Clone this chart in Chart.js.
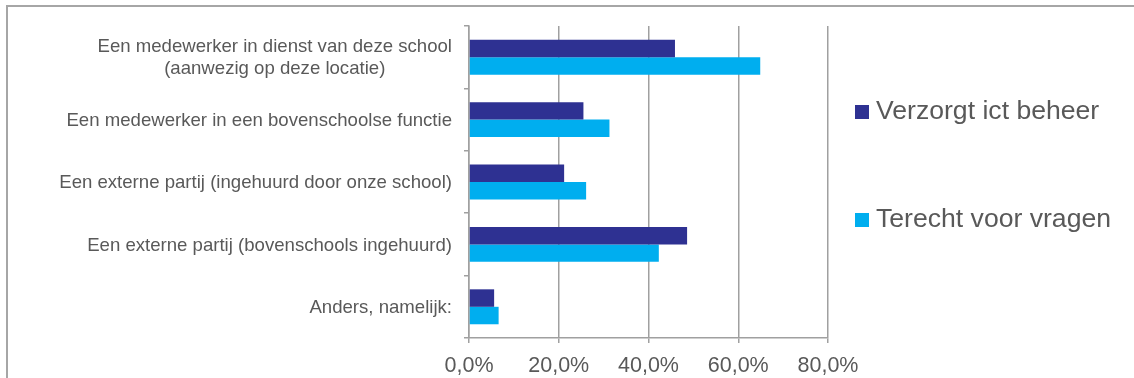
<!DOCTYPE html>
<html>
<head>
<meta charset="utf-8">
<script src="https://cdn.jsdelivr.net/npm/chart.js@4"></script>
<style>
  html, body { margin: 0; padding: 0; background: #fff; overflow: hidden; }
  #wrap { position: relative; width: 1134px; height: 378px; }
  #kader { position: absolute; left: 6px; top: 5px; width: 1200px; height: 500px;
           border-top: 2px solid #a6a6a6; border-left: 2px solid #a6a6a6; pointer-events: none; }
  canvas { position: absolute; left: 0; top: 0; }
</style>
</head>
<body>
<div id="wrap">
  <canvas id="ictChart" width="1134" height="378"></canvas>
  <div id="kader"></div>
</div>
<script>
// categorieën en percentages
const categorieen = [
    ['Een medewerker in dienst van deze school', '(aanwezig op deze locatie)'],
    'Een medewerker in een bovenschoolse functie',
    'Een externe partij (ingehuurd door onze school)',
    'Een externe partij (bovenschools ingehuurd)',
    'Anders, namelijk:'
];
const verzorgtIctBeheer = [45.9, 25.5, 21.2, 48.6, 5.6];
const terechtVoorVragen = [64.9, 31.3, 26.1, 42.3, 6.6];
const asTicks = [0, 20, 40, 60, 80];

const tekstKleur = '#595959';
const lijnKleur = '#a0a0a0';
const lettertype = "'Liberation Sans', Arial, sans-serif";

// eigen labels voor de categorie-as (meerdere regels gecentreerd t.o.v. elkaar)
const categorieLabels = {
    id: 'categorieLabels',
    afterDraw(chart) {
        const ctx = chart.ctx;
        const y = chart.scales.y;
        const rechts = y.right - 5 - 12;
        const regelHoogte = 22;
        ctx.save();
        ctx.font = '18.6px ' + lettertype;
        ctx.fillStyle = tekstKleur;
        ctx.textBaseline = 'middle';
        ctx.textAlign = 'center';
        chart.data.labels.forEach((label, i) => {
            const regels = Array.isArray(label) ? label : [label];
            const breedte = Math.max(...regels.map(r => ctx.measureText(r).width));
            const midden = y.getPixelForTick(i) + 1;
            const start = midden - (regels.length - 1) * regelHoogte / 2;
            regels.forEach((r, j) => {
                ctx.fillText(r, rechts - breedte / 2, start + j * regelHoogte);
            });
        });
        ctx.restore();
    }
};

// legenda rechts van de grafiek
const legenda = {
    id: 'legenda',
    afterDraw(chart) {
        const ctx = chart.ctx;
        const posities = [112, 220];
        ctx.save();
        ctx.font = '26.6px ' + lettertype;
        ctx.textBaseline = 'middle';
        chart.data.datasets.forEach((ds, i) => {
            ctx.fillStyle = ds.backgroundColor;
            ctx.fillRect(855, posities[i] - 7, 14, 14);
            ctx.fillStyle = tekstKleur;
            ctx.fillText(ds.label, 876, posities[i]);
        });
        ctx.restore();
    }
};

const ctx = document.getElementById('ictChart').getContext('2d');
const ictChart = new Chart(ctx, {
    type: 'bar',
    data: {
        labels: categorieen,
        datasets: [{
            label: 'Verzorgt ict beheer',
            data: verzorgtIctBeheer,
            backgroundColor: '#2e3192'
        }, {
            label: 'Terecht voor vragen',
            data: terechtVoorVragen,
            backgroundColor: '#00aeef'
        }]
    },
    options: {
        indexAxis: 'y',
        responsive: false,
        animation: false,
        devicePixelRatio: 1,
        categoryPercentage: 0.56,
        barPercentage: 1,
        layout: { padding: { top: 26, right: 306, bottom: 0, left: 0 } },
        plugins: {
            legend: { display: false },
            tooltip: { enabled: false }
        },
        scales: {
            x: {
                min: 0,
                max: 80,
                afterBuildTicks: (as) => { as.ticks = asTicks.map(v => ({ value: v })); },
                afterFit: (as) => { as.height = 40; },
                ticks: {
                    padding: 10,
                    color: tekstKleur,
                    font: { family: lettertype, size: 21.5 },
                    callback: (v) => v.toFixed(1).replace('.', ',') + '%'
                },
                grid: { color: lijnKleur, lineWidth: 1.5, tickLength: 5 },
                border: { color: lijnKleur, width: 1.5 }
            },
            y: {
                afterFit: (as) => { as.width = 469; },
                ticks: { display: false },
                grid: { offset: true, drawOnChartArea: false, color: lijnKleur, lineWidth: 1.5, tickLength: 5 },
                border: { color: lijnKleur, width: 1.5 }
            }
        }
    },
    plugins: [categorieLabels, legenda]
});
</script>
</body>
</html>
